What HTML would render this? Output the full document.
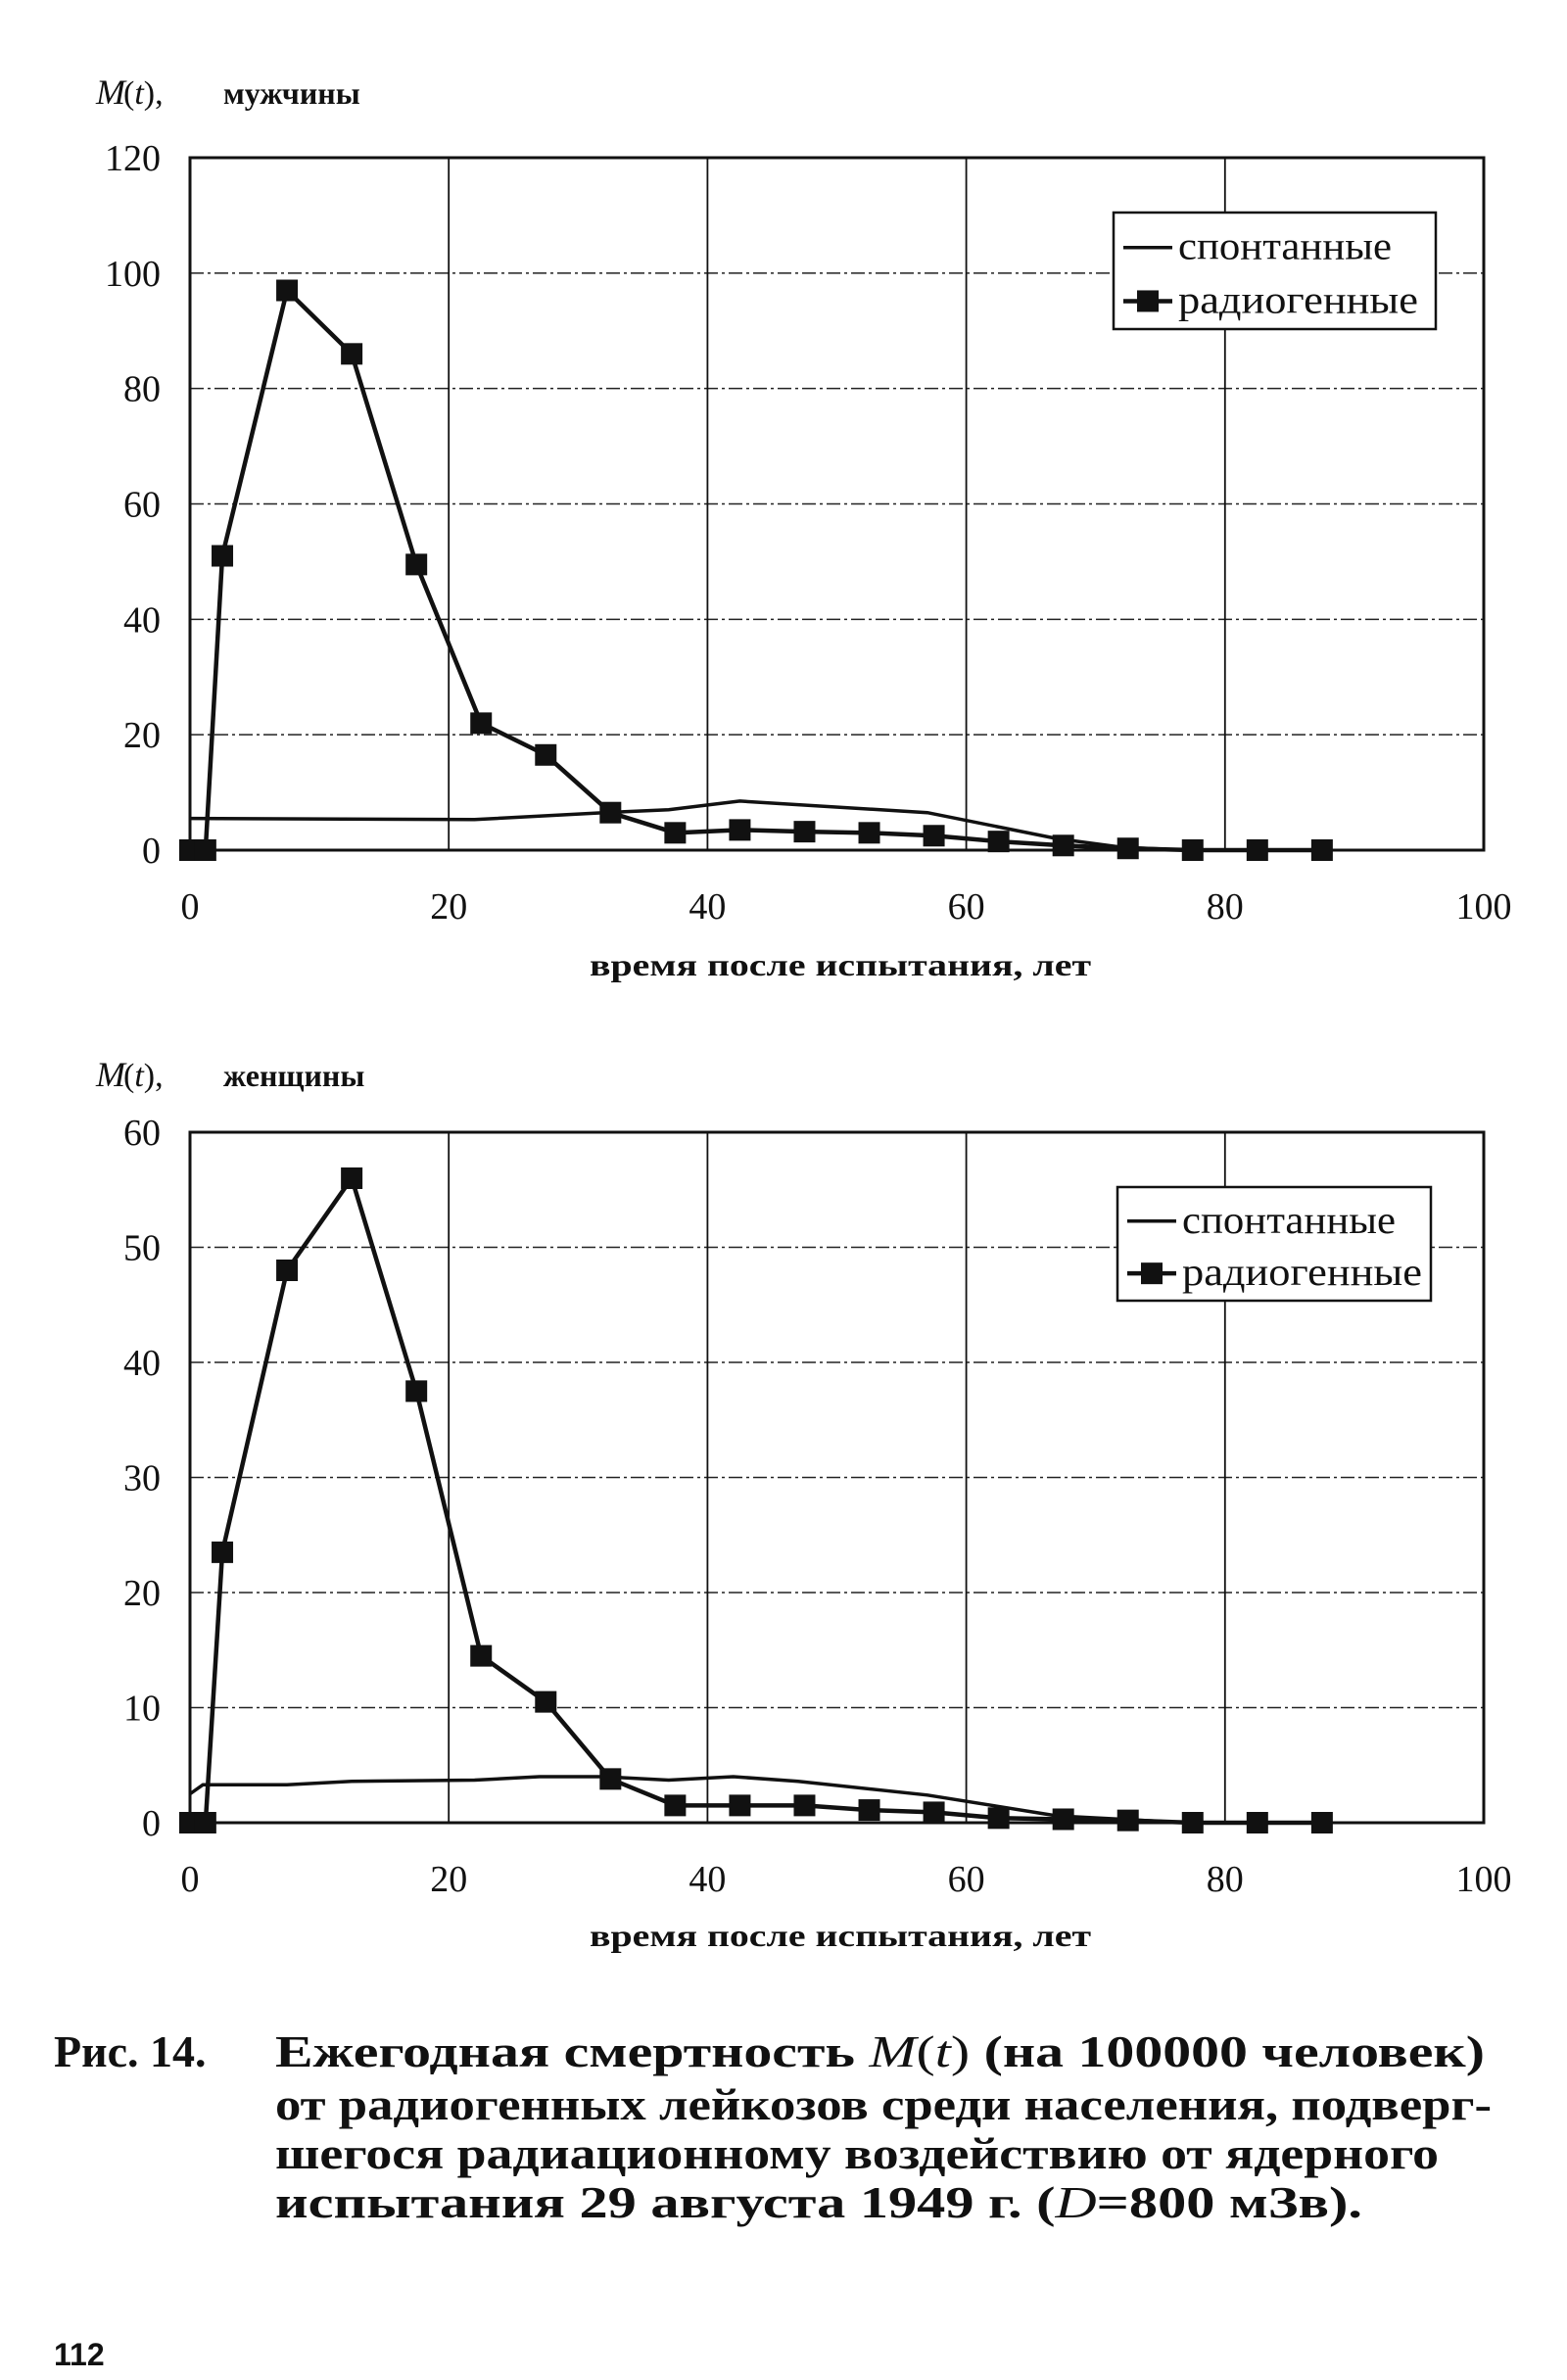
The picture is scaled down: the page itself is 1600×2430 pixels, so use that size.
<!DOCTYPE html>
<html><head><meta charset="utf-8"><style>
body{margin:0;background:#fff;width:1600px;height:2430px;overflow:hidden}
svg{position:absolute;left:0;top:0}
text{font-family:"Liberation Serif","DejaVu Serif",serif;fill:#111}
</style></head><body>
<svg id="s" width="1600" height="2430" xmlns="http://www.w3.org/2000/svg">
<text x="98" y="106" font-size="36" font-style="italic">M</text><text x="126" y="106" font-size="34">(<tspan font-style="italic">t</tspan>),</text>
<text x="228" y="106" font-size="32" font-weight="bold">мужчины</text>
<text x="98" y="1109" font-size="36" font-style="italic">M</text><text x="126" y="1109" font-size="34">(<tspan font-style="italic">t</tspan>),</text>
<text x="228" y="1109" font-size="32" font-weight="bold">женщины</text>
<text x="602" y="996" font-size="32" font-weight="bold" textLength="512" lengthAdjust="spacingAndGlyphs">время  после  испытания,  лет</text>
<text x="602" y="1987" font-size="32" font-weight="bold" textLength="512" lengthAdjust="spacingAndGlyphs">время  после  испытания,  лет</text>
<g font-size="46" font-weight="bold">
<text x="55" y="2110">Рис. 14.</text>
<text x="281" y="2110" textLength="1235" lengthAdjust="spacingAndGlyphs">Ежегодная смертность <tspan font-weight="normal" font-style="italic">M</tspan><tspan font-weight="normal">(<tspan font-style="italic">t</tspan>)</tspan> (на 100000 человек)</text>
<text x="281" y="2164" textLength="1242" lengthAdjust="spacingAndGlyphs">от радиогенных лейкозов среди населения, подверг-</text>
<text x="281" y="2214" textLength="1188" lengthAdjust="spacingAndGlyphs">шегося радиационному воздействию от ядерного</text>
<text x="281" y="2264" textLength="1110" lengthAdjust="spacingAndGlyphs">испытания 29 августа 1949 г. (<tspan font-weight="normal" font-style="italic">D</tspan>=800 мЗв).</text>
</g>
<text x="55" y="2415" font-size="32" font-weight="bold" style="font-family:'Liberation Sans',sans-serif">112</text>
</svg>
<script>
var s=document.getElementById('s'),NS='http://www.w3.org/2000/svg';
function el(t,a,txt){var e=document.createElementNS(NS,t);for(var k in a)e.setAttribute(k,a[k]);if(txt!=null)e.textContent=txt;s.appendChild(e);return e;}
function chart(o){
 var L=194,R=1515,T=o.T,B=o.B;
 function X(v){return L+(R-L)*v/100}
 function Y(v){return B-(B-T)*v/o.ymax}
 for(var i=1;i<o.n;i++){var y=Y(o.ymax*i/o.n);el('line',{x1:L,x2:R,y1:y,y2:y,stroke:'#222','stroke-width':1.5,'stroke-dasharray':'14 4 3 4'});}
 for(var i=20;i<100;i+=20)el('line',{x1:X(i),x2:X(i),y1:T,y2:B,stroke:'#111','stroke-width':1.8});
 el('rect',{x:L,y:T,width:R-L,height:B-T,fill:'none',stroke:'#111','stroke-width':3});
 for(var i=0;i<=o.n;i++){var v=o.ymax*i/o.n;el('text',{x:L-30,y:Y(v)+13,'font-size':38,'text-anchor':'end'},String(v));}
 for(var i=0;i<=100;i+=20)el('text',{x:X(i),y:B+70,'font-size':38,'text-anchor':'middle'},String(i));
 el('polyline',{points:o.sp.map(function(p){return X(p[0])+','+Y(p[1])}).join(' '),fill:'none',stroke:'#111','stroke-width':3.5});
 var xs=[0,1.2,2.5,7.5,12.5,17.5,22.5,27.5,32.5,37.5,42.5,47.5,52.5,57.5,62.5,67.5,72.5,77.5,82.5,87.5];
 el('polyline',{points:xs.map(function(x,i){return X(x)+','+Y(o.r[i])}).join(' '),fill:'none',stroke:'#111','stroke-width':4.5});
 xs.forEach(function(x,i){el('rect',{x:X(x)-11,y:Y(o.r[i])-11,width:22,height:22,fill:'#111'});});
 var g=o.lg;el('rect',{x:g[0],y:g[1],width:g[2],height:g[3],fill:'#fff',stroke:'#111','stroke-width':2.5});
 var y1=g[1]+g[3]*0.3,y2=g[1]+g[3]*0.76;
 el('line',{x1:g[0]+10,x2:g[0]+60,y1:y1,y2:y1,stroke:'#111','stroke-width':3.5});
 el('line',{x1:g[0]+10,x2:g[0]+60,y1:y2,y2:y2,stroke:'#111','stroke-width':4.5});
 el('rect',{x:g[0]+24,y:y2-11,width:22,height:22,fill:'#111'});
 el('text',{x:g[0]+66,y:y1+12,'font-size':40,textLength:218,lengthAdjust:'spacingAndGlyphs'},'спонтанные');
 el('text',{x:g[0]+66,y:y2+12,'font-size':40,textLength:245,lengthAdjust:'spacingAndGlyphs'},'радиогенные');
}
chart({T:161,B:868,ymax:120,n:6,lg:[1137,217,329,119],
 r:[0,0,51,97,86,49.5,22,16.5,6.5,3,3.5,3.2,3,2.5,1.5,0.8,0.3,0,0,0],
 sp:[[0,5.5],[22,5.3],[32,6.5],[37,7],[42.5,8.5],[57,6.5],[67,2],[72,0.5],[77,0]]});
chart({T:1156,B:1861,ymax:60,n:6,lg:[1141,1212,320,116],
 r:[0,0,23.5,48,56,37.5,14.5,10.5,3.8,1.5,1.5,1.5,1.1,0.9,0.4,0.3,0.2,0,0,0],
 sp:[[0,2.5],[1,3.3],[7.5,3.3],[12.5,3.6],[22,3.7],[27,4],[32,4],[37,3.7],[42,4],[47,3.6],[57,2.4],[67,0.6],[72,0.3],[77,0]]});
</script>
</body></html>
